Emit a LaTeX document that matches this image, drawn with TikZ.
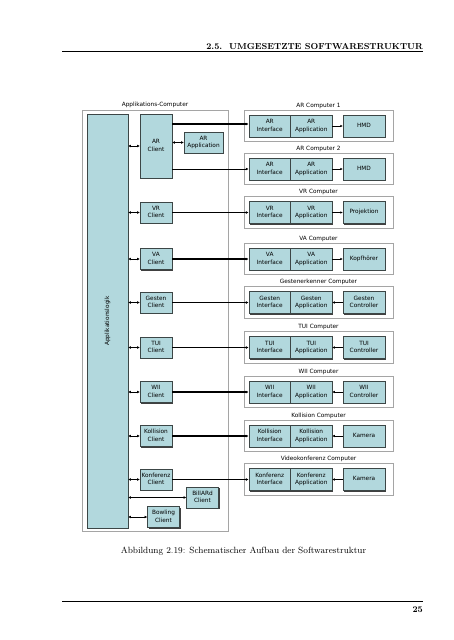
\documentclass[tikz,border=0pt]{standalone}
\usepackage{fontspec}
\newfontfamily\dvfont{DejaVu Sans}
\usetikzlibrary{shadows,arrows.meta}
\definecolor{boxfill}{RGB}{178,216,221}
\definecolor{boxline}{RGB}{60,70,70}
\definecolor{outline}{RGB}{165,165,165}
\newcommand{\twol}[2]{\strut #1\\\strut #2}
\tikzset{
  sf/.style={font=\dvfont\fontsize{5.8}{7.2}\selectfont},
  box/.style={sf, draw=boxline, fill=boxfill, line width=0.5pt, inner sep=0pt, align=center,
    drop shadow={shadow xshift=1pt, shadow yshift=-1pt, fill=black!75, opacity=1}},
  client/.style={box, minimum width=32pt, minimum height=21pt},
  half/.style={box, minimum width=41.5pt, minimum height=22pt},
  devbox/.style={box, minimum width=42pt, minimum height=22pt},
  comp/.style={draw=outline, line width=0.8pt, fill=white, minimum width=149pt, minimum height=31.5pt, inner sep=0pt},
  clab/.style={sf, anchor=south, inner sep=1.2pt},
  conn/.style={line width=1.4pt, -{Latex[length=3pt,width=3pt]}},
  thinconn/.style={line width=0.7pt, -{Latex[length=3pt,width=3pt]}},
  dbl/.style={line width=0.9pt, {Latex[length=2.6pt,width=2.8pt]}-{Latex[length=2.6pt,width=2.8pt]}},
  one/.style={line width=0.8pt, -{Latex[length=2.5pt,width=2.5pt]}},
}
\begin{document}
\begin{tikzpicture}[x=1pt,y=-1pt]
\useasboundingbox (0,0) rectangle (453,640);
% header / footer
\node[anchor=base east, inner sep=0pt, font=\bfseries\fontsize{8.7}{10}\selectfont] (hdr) at (423,49) {2.5.\ \ UMGESETZTE SOFTWARESTRUKTUR};
\coordinate (hl) at (62,51.5); \coordinate (hr) at (423,51.5);
\draw[line width=0.6pt] (hl) -- (hr);
\coordinate (fl) at (62,601.5); \coordinate (fr) at (423,601.5);
\draw[line width=0.6pt] (fl) -- (fr);
\node[anchor=base east, inner sep=0pt, font=\bfseries\fontsize{8.7}{10}\selectfont] (pg) at (423,612.5) {25};
\node[anchor=base, inner sep=0pt, font=\fontsize{9}{11}\selectfont] (cap) at (243.5,553) {Abbildung 2.19: Schematischer Aufbau der Softwarestruktur};

% application computer
\node[draw=outline, line width=0.8pt, fill=white, minimum width=146pt, minimum height=421pt, inner sep=0pt] (appc) at (155,320.5) {};
\node[clab] (appclab) at (appc.north) {Applikations-Computer};
\node[box, minimum width=41pt, minimum height=414pt] (logic) at (107.5,321) {};
\node[sf, rotate=90] (logiclab) at (logic.center) {Applikationslogik};

% AR client and local application
\node[client, minimum height=64pt] (ARc) at (156,146) {\twol{AR}{Client}};
\node[box, minimum width=39pt, minimum height=21pt] (ARloc) at (203.5,142.5) {\twol{AR}{Application}};
\draw[dbl] (logic.east |- ARc.west) -- (ARc.west);
\draw[dbl] (ARc.east |- ARloc.west) -- (ARloc.west);

% remote computers
\foreach \n/\c/\lab/\nm/\dvc/\dir in {
  AR1/126/AR Computer 1/AR/HMD/r,
  AR2/169/AR Computer 2/AR/HMD/r,
  VR/212.5/VR Computer/VR/Projektion/r,
  VA/259/VA Computer/VA/Kopfhörer/r,
  Ge/302.5/Gestenerkenner Computer/Gesten/\twol{Gesten}{Controller}/l,
  TUI/347.5/TUI Computer/TUI/\twol{TUI}{Controller}/l,
  Wii/392/WII Computer/WII/\twol{WII}{Controller}/l,
  Ko/436/Kollision Computer/Kollision/Kamera/l,
  Kf/479.5/Videokonferenz Computer/Konferenz/Kamera/l}{
  \node[comp] (\n-comp) at (318.5,\c) {};
  \node[clab] (\n-lab) at (\n-comp.north) {\lab};
  \node[half] (\n-i) at (269.75,\c) {\twol{\nm}{Interface}};
  \node[half] (\n-a) at (311.25,\c) {\twol{\nm}{Application}};
  \node[devbox] (\n-d) at (364,\c) {\strut\dvc};
  \if r\dir
    \draw[one] (\n-a) -- (\n-d);
  \else
    \draw[one] (\n-d) -- (\n-a);
  \fi
}

% clients
\foreach \n/\c/\nm in {VR/212.5/VR, VA/259/VA, Ge/302.5/Gesten, TUI/347.5/TUI, Wii/392/WII, Ko/436/Kollision, Kf/479.5/Konferenz}{
  \node[client] (\n-c) at (156,\c) {\twol{\nm}{Client}};
  \draw[dbl] (logic.east |- \n-c.west) -- (\n-c.west);
  \draw[conn] (\n-c.east) -- (\n-i.west);
}
\coordinate (ar1y) at (172,124);
\draw[conn] (ARc.east |- ar1y) -- (AR1-i.west |- ar1y);
\draw[thinconn] (ARc.east |- AR2-i.west) -- (AR2-i.west);

% Billard / Bowling
\node[client] (bil) at (202.5,497.5) {\twol{BillARd}{Client}};
\node[client] (bow) at (163.5,517) {\twol{Bowling}{Client}};
\draw[dbl] (logic.east |- bil.west) -- (bil.west);
\draw[dbl] (logic.east |- bow.west) -- (bow.west);
\end{tikzpicture}
\end{document}
